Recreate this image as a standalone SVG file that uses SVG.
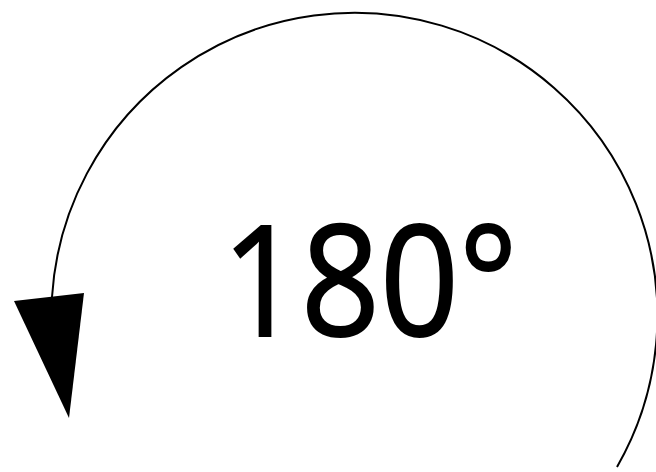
<svg xmlns="http://www.w3.org/2000/svg" width="656" height="472" viewBox="0 0 656 472">
<style>
.arc{fill:none;stroke:#000;stroke-width:2}
.head{fill:#000}
.lbl{font-family:"Open Sans","Noto Sans","Liberation Sans",sans-serif;font-size:153px;fill:#000;stroke:#000;stroke-width:2}
</style>
<rect width="656" height="472" fill="#fff"/>
<g id="connectors">
<path class="arc" d="M617,467 A303,303 0 1 0 52,297"/>
<polygon class="head" points="14,301 84,293 69,418"/>
</g>
<g id="label">
<text class="lbl" x="222" y="336" textLength="296" lengthAdjust="spacingAndGlyphs">180°</text>
</g>
</svg>
